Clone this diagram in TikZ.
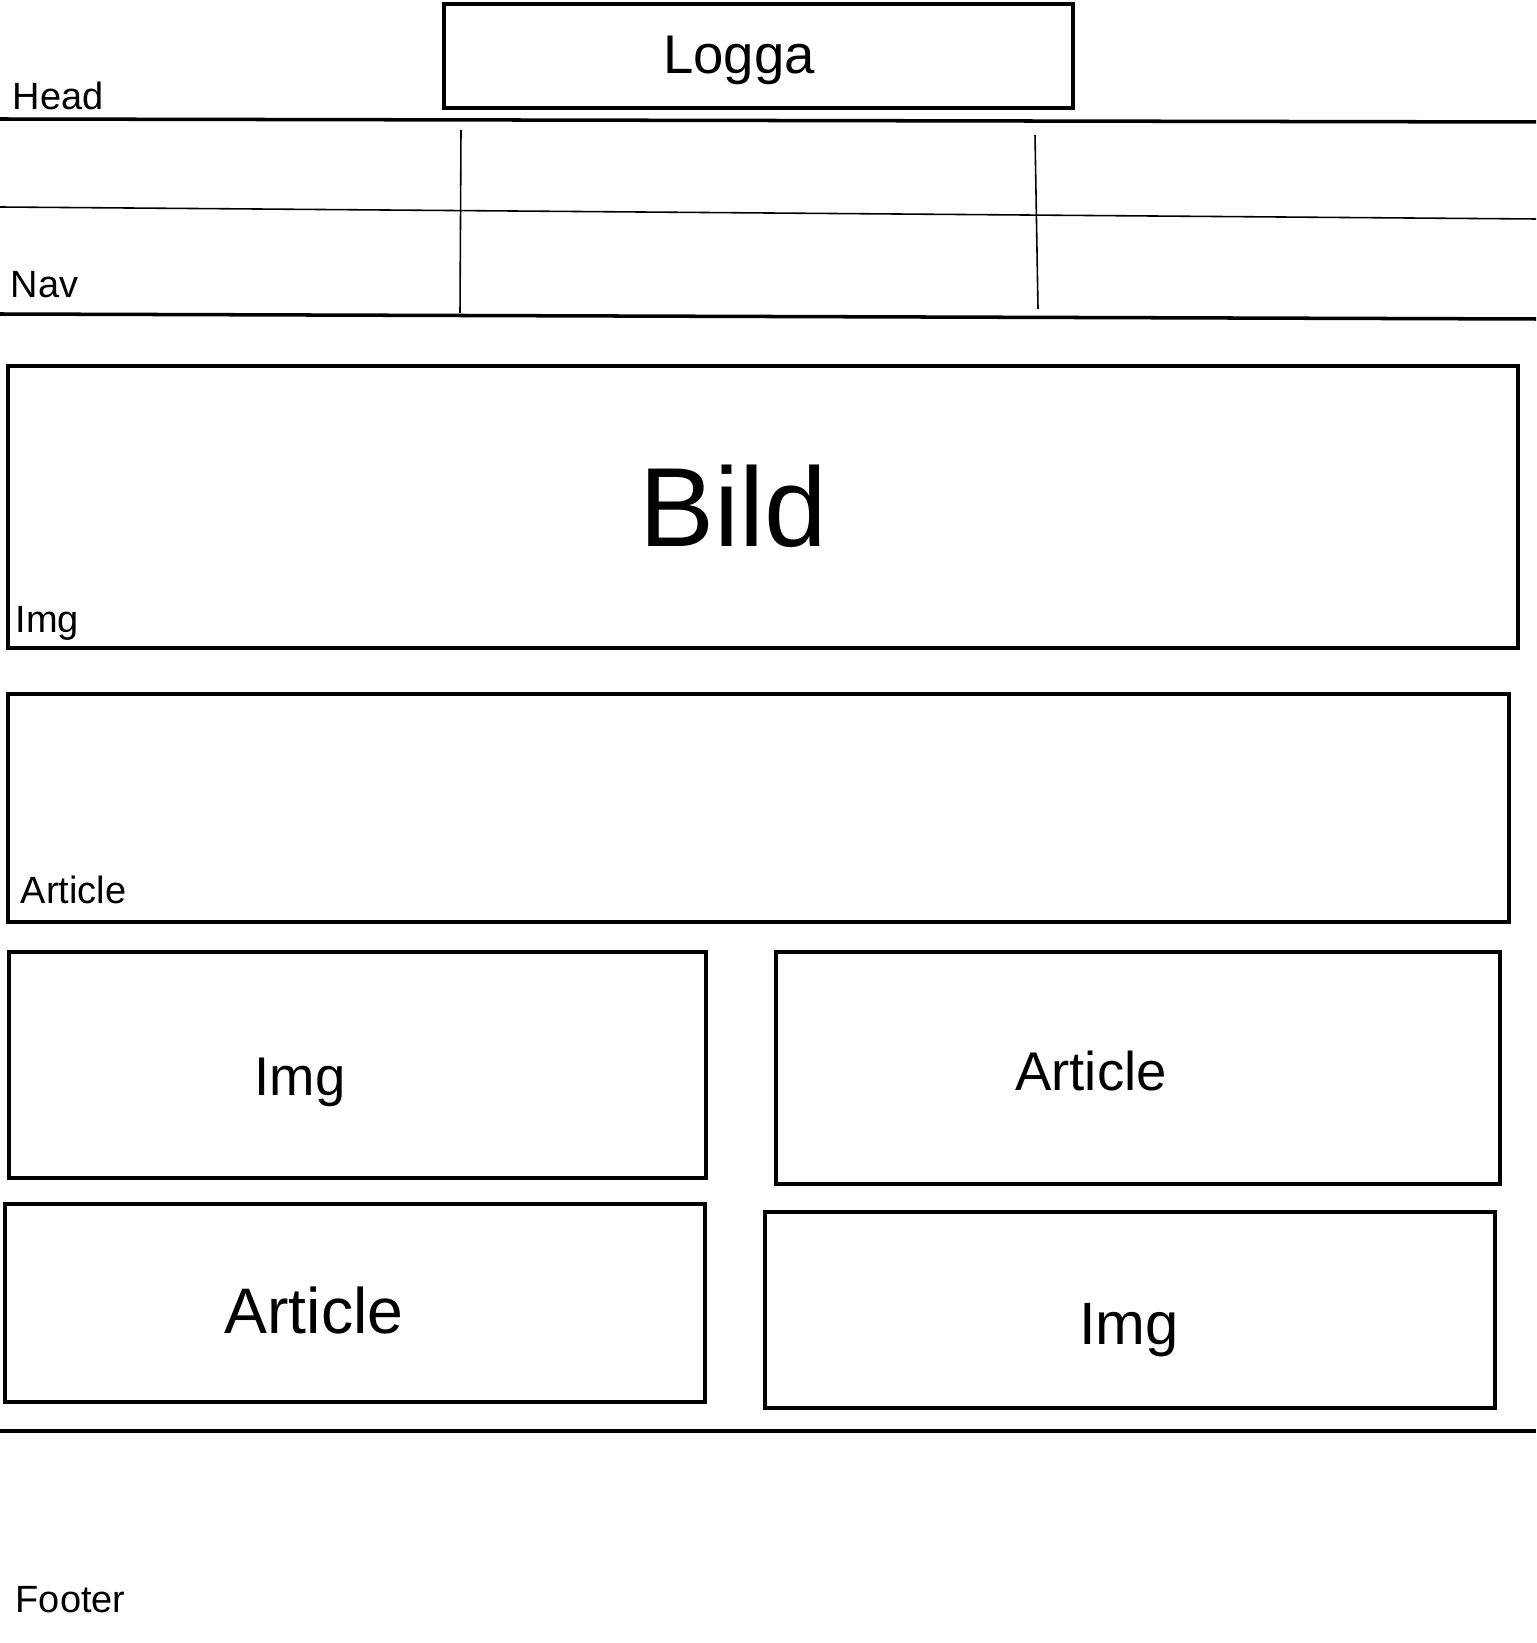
\documentclass[tikz,border=0pt]{standalone}
\usepackage{fontspec}
\setmainfont{Liberation Sans}
\begin{document}
\begin{tikzpicture}
  [
    x=0.01cm, y=-0.01cm,
    inner sep=0mm,
    frame/.style={draw=black,line width=1pt},
    rule/.style={draw=black,line width=1pt},
    thin rule/.style={draw=black,line width=0.45pt},
    tag/.style={anchor=base west,font=\fontsize{10.8}{13}\selectfont},
    title/.style={anchor=base,font=\fontsize{15.5}{18}\selectfont},
  ]
  \useasboundingbox (0,0) rectangle (1536,1643);
  % head
  \draw[frame] (444,4) rectangle (1073,108);
  \node[title] (logga) at (739,74) {Logga};
  \node[tag]   (head)  at (12,110) {Head};
  \coordinate (head w) at (0,119);    \coordinate (head e) at (1536,122);
  \draw[rule] (head w) -- (head e);
  % nav
  \coordinate (nav mid w) at (0,207); \coordinate (nav mid e) at (1536,219);
  \coordinate (nav bot w) at (0,314); \coordinate (nav bot e) at (1536,319);
  \coordinate (nav a top) at (461,130); \coordinate (nav a bot) at (460,313);
  \coordinate (nav b top) at (1035,135); \coordinate (nav b bot) at (1038,309);
  \draw[thin rule] (nav mid w) -- (nav mid e);
  \draw[thin rule] (nav a top) -- (nav a bot);
  \draw[thin rule] (nav b top) -- (nav b bot);
  \draw[rule] (nav bot w) -- (nav bot e);
  \node[tag] (nav) at (10,298) {Nav};
  % image
  \draw[frame] (8,366) rectangle (1518,648);
  \node[anchor=base,font=\fontsize{32}{36}\selectfont] (bild) at (733,547) {Bild};
  \node[tag] (img tag) at (15,633) {Img};
  % article
  \draw[frame] (8,694) rectangle (1509,922);
  \node[tag] (article tag) at (20,903) {Article};
  % grid
  \draw[frame] (9,952) rectangle (706,1178);
  \node[title] (img a) at (300,1095) {Img};
  \draw[frame] (776,952) rectangle (1500,1184);
  \node[title] (article a) at (1091,1090) {Article};
  \draw[frame] (5,1204) rectangle (705,1402);
  \node[title,font=\fontsize{18.3}{22}\selectfont] (article b) at (314,1333) {Article};
  \draw[frame] (765,1212) rectangle (1495,1408);
  \node[title,font=\fontsize{17}{20}\selectfont] (img b) at (1129,1344) {Img};
  % footer
  \coordinate (foot w) at (0,1431); \coordinate (foot e) at (1536,1431);
  \draw[rule] (foot w) -- (foot e);
  \node[tag] (footer) at (15,1612) {Footer};
\end{tikzpicture}
\end{document}
